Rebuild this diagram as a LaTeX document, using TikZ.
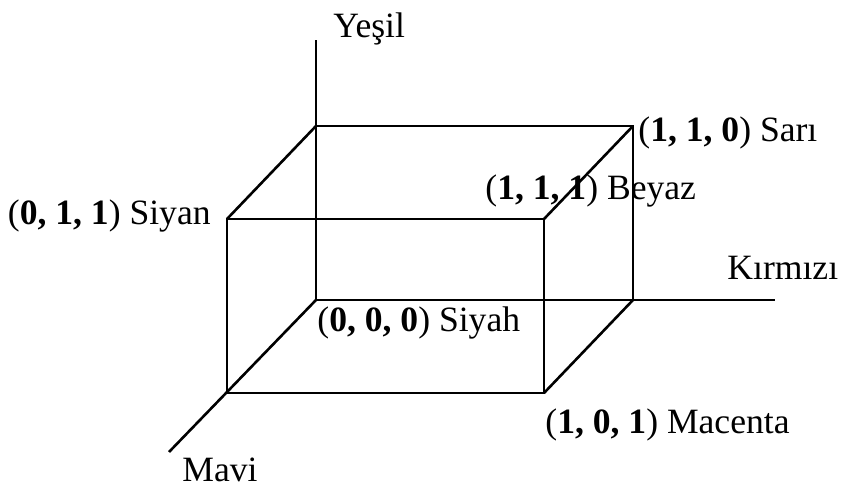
\documentclass[tikz,border=0pt]{standalone}
\usepackage{fontspec}
\setmainfont{Liberation Serif}
\tikzset{kenar/.style={line width=1.3pt,line join=miter}}
\tikzset{etiket/.style={font=\fontsize{17.8}{21}\selectfont,inner sep=0pt}}

\begin{document}
\begin{tikzpicture}[x=0.5pt,y=-0.5pt]
\useasboundingbox (0,0) rectangle (855,491);

\pgfmathsetmacro{\ox}{316}
\pgfmathsetmacro{\oy}{300}
\pgfmathsetmacro{\w}{317}
\pgfmathsetmacro{\h}{174}
\pgfmathsetmacro{\dx}{-89}
\pgfmathsetmacro{\dy}{93}

%   köşeler
\coordinate (k000) at (\ox,\oy);
\coordinate (k100) at (\ox+\w,\oy);
\coordinate (k010) at (\ox,\oy-\h);
\coordinate (k110) at (\ox+\w,\oy-\h);
\coordinate (k001) at (\ox+\dx,\oy+\dy);
\coordinate (k101) at (\ox+\w+\dx,\oy+\dy);
\coordinate (k011) at (\ox+\dx,\oy-\h+\dy);
\coordinate (k111) at (\ox+\w+\dx,\oy-\h+\dy);

%   eksen uçları
\coordinate (yesil) at (\ox,40);
\coordinate (kirmizi) at (775,\oy);
\coordinate (mavi) at (169,452);

%   etiketler
\node[etiket,anchor=base west] (tyesil) at (333,38) {Yeşil};
\node[etiket,anchor=base west] (tkirmizi) at (727,280) {Kırmızı};
\node[etiket,anchor=base west] (tmavi) at (182,481) {Mavi};
\node[etiket,anchor=base east] (tsiyan) at (211,225) {(\textbf{0, 1, 1}) Siyan};
\node[etiket,anchor=base west] (tbeyaz) at (485,200) {(\textbf{1, 1, 1}) Beyaz};
\node[etiket,anchor=base west] (tsari) at (638,142) {(\textbf{1, 1, 0}) Sarı};
\node[etiket,anchor=base west] (tsiyah) at (317,331) {(\textbf{0, 0, 0}) Siyah};
\node[etiket,anchor=base west] (tmacenta) at (545,433) {(\textbf{1, 0, 1}) Macenta};

%   eksenler
\draw[kenar] (k000) -- (yesil);
\draw[kenar] (k000) -- (kirmizi);
\draw[kenar] (k000) -- (mavi);

%   küp
\draw[kenar] (k010) -- (k110) -- (k100);
\draw[kenar] (k011) -- (k111) -- (k101) -- (k001) -- cycle;
\draw[kenar] (k010) -- (k011);
\draw[kenar] (k110) -- (k111);
\draw[kenar] (k100) -- (k101);

\end{tikzpicture}
\end{document}
